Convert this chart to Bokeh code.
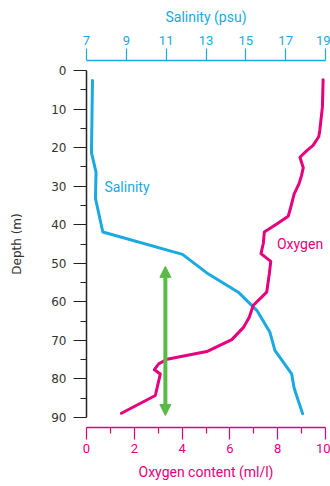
from bokeh.plotting import figure
from bokeh.models import Range1d, LinearAxis, FixedTicker, Arrow, NormalHead, Label
from bokeh.embed import file_html
from bokeh.resources import INLINE

# Salinity profile (psu) vs depth (m)
sal_depth = [2.6, 21.3, 26.4, 33.2, 41.9, 47.7, 52.5, 57.5, 62.2, 67.9, 72.6, 78.7, 82.5, 89.0]
sal_value = [7.3, 7.25, 7.48, 7.45, 7.82, 11.82, 13.04, 14.62, 15.55, 16.21, 16.46, 17.30, 17.43, 17.85]

# Oxygen profile (ml/l) vs depth (m)
oxy_depth = [2.4, 9.5, 15.6, 17.1, 19.4, 20.7, 22.5, 25.2, 27.2, 29.4, 32.0, 35.4, 37.8, 39.8,
             41.9, 44.8, 47.5, 49.5, 52.7, 57.5, 60.9, 64.0, 66.7, 69.8, 72.9, 74.9, 76.1,
             77.6, 78.7, 84.3, 88.9]
oxy_value = [9.90, 9.87, 9.76, 9.72, 9.48, 9.23, 8.93, 9.07, 9.0, 8.89, 8.69, 8.55, 8.44, 7.96,
             7.44, 7.40, 7.30, 7.71, 7.65, 7.54, 6.98, 6.81, 6.56, 6.08, 5.03, 3.37, 3.02,
             2.84, 3.09, 2.88, 1.46]

# Green double arrow (oxygen x, depth range)
arrow_x = 3.30
arrow_top = 48.8
arrow_bottom = 89.5

depth_ticks = [0, 10, 20, 30, 40, 50, 60, 70, 80, 90]
sal_ticks = [7, 9, 11, 13, 15, 17, 19]
oxy_ticks = [0, 2, 4, 6, 8, 10]

BLUE = "#1aa9e1"
MAGENTA = "#e6007e"
GREEN = "#5ab947"
DARK = "#333333"
GRAY = "#808080"
FONT = "Roboto"

p = figure(width=330, height=486, output_backend="svg", toolbar_location=None,
           x_range=Range1d(0, 10), y_range=Range1d(92.6, -2.6),
           min_border_left=86, min_border_right=5, min_border_top=60, min_border_bottom=59,
           outline_line_color=None, background_fill_color=None, border_fill_color="white")
p.xgrid.visible = False
p.ygrid.visible = False
p.extra_x_ranges = {"sal": Range1d(7, 19)}

# bottom oxygen axis
xa = p.xaxis[0]
xa.ticker = FixedTicker(ticks=oxy_ticks, minor_ticks=[1, 3, 5, 7, 9])
xa.axis_line_color = MAGENTA
xa.axis_line_width = 1.5
xa.major_tick_line_color = MAGENTA
xa.minor_tick_line_color = MAGENTA
xa.major_tick_line_width = 1.2
xa.minor_tick_line_width = 1.2
xa.major_tick_out = 12
xa.major_tick_in = 0
xa.minor_tick_out = 6
xa.minor_tick_in = 0
xa.major_label_text_color = MAGENTA
xa.major_label_text_font = FONT
xa.major_label_text_font_size = "13px"
xa.major_label_standoff = 4
xa.axis_label = "Oxygen content (ml/l)"
xa.axis_label_text_color = MAGENTA
xa.axis_label_text_font = FONT
xa.axis_label_text_font_style = "normal"
xa.axis_label_text_font_size = "14px"
xa.axis_label_standoff = 8

# left depth axis
ya = p.yaxis[0]
ya.ticker = FixedTicker(ticks=depth_ticks, minor_ticks=[5, 15, 25, 35, 45, 55, 65, 75, 85])
ya.bounds = (0, 90)
ya.axis_line_color = "#222222"
ya.axis_line_width = 1.5
ya.major_tick_line_color = "#222222"
ya.minor_tick_line_color = "#222222"
ya.major_tick_line_width = 1.2
ya.minor_tick_line_width = 1.2
ya.major_tick_out = 13
ya.major_tick_in = 0
ya.minor_tick_out = 6
ya.minor_tick_in = 0
ya.major_label_text_color = DARK
ya.major_label_text_font = "DejaVu Sans"
ya.major_label_text_font_size = "12px"
ya.major_label_standoff = 7
ya.axis_label = "Depth (m)"
ya.axis_label_text_color = DARK
ya.axis_label_text_font = "DejaVu Sans"
ya.axis_label_text_font_style = "normal"
ya.axis_label_text_font_size = "12px"
ya.axis_label_standoff = 24

# top salinity axis
sa = LinearAxis(x_range_name="sal", ticker=FixedTicker(ticks=sal_ticks))
sa.axis_line_color = BLUE
sa.axis_line_width = 1.5
sa.major_tick_line_color = BLUE
sa.major_tick_line_width = 1.2
sa.major_tick_out = 12
sa.major_tick_in = 0
sa.minor_tick_line_color = None
sa.major_label_text_color = BLUE
sa.major_label_text_font = FONT
sa.major_label_text_font_size = "13px"
sa.major_label_standoff = 4
sa.axis_label = "Salinity (psu)"
sa.axis_label_text_color = BLUE
sa.axis_label_text_font = FONT
sa.axis_label_text_font_style = "normal"
sa.axis_label_text_font_size = "14px"
sa.axis_label_standoff = 8
p.add_layout(sa, "above")

# curves
p.line(sal_value, sal_depth, x_range_name="sal", line_color=BLUE, line_width=3,
       line_join="round", line_cap="round")
p.line(oxy_value, oxy_depth, line_color=MAGENTA, line_width=3,
       line_join="round", line_cap="round")

# series labels
p.add_layout(Label(x=7.9, y=30.3, x_range_name="sal", text="Salinity", text_color=BLUE,
                   text_font=FONT, text_font_size="14px", text_baseline="middle", text_align="left"))
p.add_layout(Label(x=7.97, y=44.9, text="Oxygen", text_color=MAGENTA,
                   text_font=FONT, text_font_size="14px", text_baseline="middle", text_align="left"))

# green double arrow
p.add_layout(Arrow(x_start=arrow_x, y_start=arrow_top + 2.0, x_end=arrow_x, y_end=arrow_bottom,
                   line_color=GREEN, line_width=4,
                   start=NormalHead(size=11, fill_color=GREEN, line_color=GREEN, line_width=1),
                   end=NormalHead(size=11, fill_color=GREEN, line_color=GREEN, line_width=1)))

# small gray pointer at the left edge (decorative)
p.add_layout(Label(x=-69, x_units="screen", y=64.06, text="\u25AC\u25B6", text_color=GRAY,
                   text_font="DejaVu Sans", text_font_size="11px",
                   text_baseline="middle", text_align="right"))

open("out.html", "w").write(file_html(p, INLINE))
